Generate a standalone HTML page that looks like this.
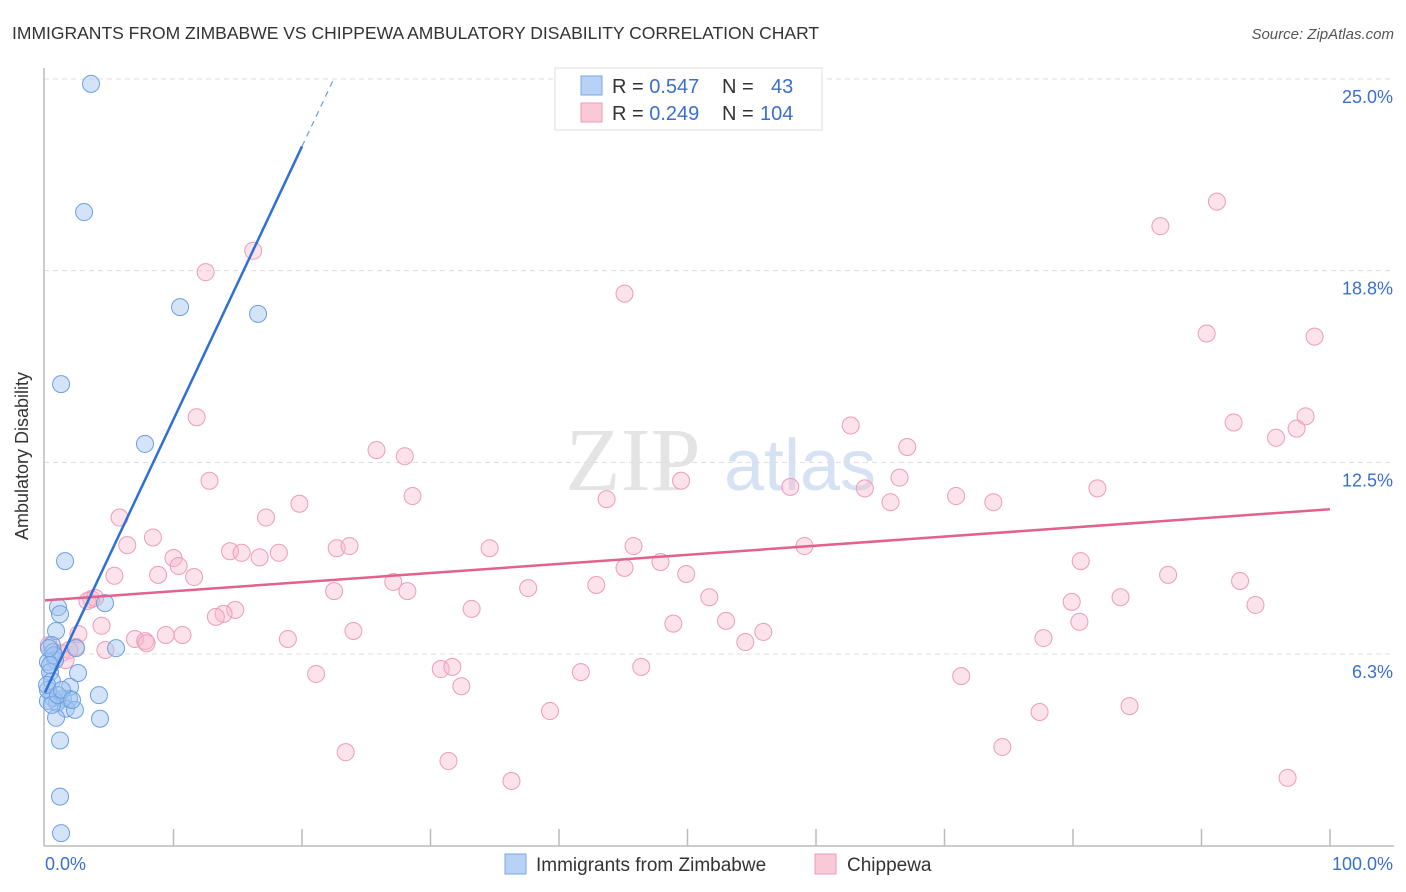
<!DOCTYPE html>
<html><head><meta charset="utf-8"><style>
body{margin:0;background:#fff;font-family:"Liberation Sans",sans-serif;}
svg{display:block}
</style></head><body>
<svg id="chart" width="1406" height="892">
<text x="12" y="39" font-size="17.5" fill="#333">IMMIGRANTS FROM ZIMBABWE VS CHIPPEWA AMBULATORY DISABILITY CORRELATION CHART</text>
<text x="1394" y="39" font-size="15" fill="#555" font-style="italic" text-anchor="end">Source: ZipAtlas.com</text>
<text x="633" y="490" font-size="90" fill="#e4e4e4" font-family="Liberation Serif" text-anchor="middle">ZIP</text>
<text x="800" y="490" font-size="72" fill="#d6e2f3" text-anchor="middle">atlas</text>
<g id="grid"></g>
<line x1="44" y1="68" x2="44" y2="846" stroke="#bbb" stroke-width="1.5"/>
<line x1="44" y1="846" x2="1394" y2="846" stroke="#bbb" stroke-width="1.5"/>
<g id="xticks"></g>
<text x="28" y="456" font-size="18" fill="#333" text-anchor="middle" transform="rotate(-90 28 456)">Ambulatory Disability</text>
<text x="45" y="870" font-size="18" fill="#3a6fd0">0.0%</text>
<text x="1393" y="870" font-size="18" fill="#3a6fd0" text-anchor="end">100.0%</text>
<g id="pts"></g>
<g id="lines"></g>
<g>
<rect x="555" y="68" width="267" height="62" fill="#fff" stroke="#ddd"/>
<rect x="581" y="76" width="21" height="19" fill="#b7d2f5" stroke="#7aa6e3"/>
<rect x="581" y="103" width="21" height="19" fill="#f9c9d8" stroke="#ee9ab5"/>
<text x="612" y="93" font-size="20" fill="#333">R = <tspan fill="#3a6fd0">0.547</tspan><tspan x="722">N =</tspan><tspan x="771" fill="#3a6fd0">43</tspan></text>
<text x="612" y="120" font-size="20" fill="#333">R = <tspan fill="#3a6fd0">0.249</tspan><tspan x="722">N =</tspan><tspan x="760" fill="#3a6fd0">104</tspan></text>
</g>
<g>
<rect x="505" y="854" width="21" height="20" fill="#b7d2f5" stroke="#7aa6e3"/>
<text x="536" y="871" font-size="19" fill="#333">Immigrants from Zimbabwe</text>
<rect x="815" y="854" width="21" height="20" fill="#f9c9d8" stroke="#ee9ab5"/>
<text x="847" y="871" font-size="19" fill="#333">Chippewa</text>
</g>
</svg>
<script>
const yTicks=[6.25,12.5,18.75,25];
const yTickLabels=["6.3%","12.5%","18.8%","25.0%"];
const xTicks=[10,20,30,40,50,60,70,80,90,100];
const blueX=[3.58,3.04,10.51,16.58,1.25,7.78,1.56,4.67,1.01,1.17,5.53,2.41,0.86,0.54,0.62,0.78,0.23,0.39,2.57,0.54,1.95,4.20,0.62,1.40,0.93,0.23,1.87,1.63,2.33,0.86,4.28,1.17,1.17,1.25,0.23,0.54,0.70,0.39,0.16,1.01,1.32,2.10,0.31];
const blueY=[24.84,20.66,17.56,17.34,15.05,13.10,9.28,7.91,7.78,7.55,6.44,6.44,7.00,6.54,6.31,6.05,5.99,5.66,5.63,5.37,5.18,4.91,4.82,4.79,4.66,4.72,4.79,4.47,4.43,4.17,4.14,3.43,1.60,0.41,5.08,4.59,6.21,5.89,5.24,4.91,5.08,4.75,6.44];
const pinkX=[12.5,16.2,45.1,86.8,91.2,90.4,98.8,11.8,62.7,92.5,98.1,97.4,95.8,67.1,25.8,28.0,12.8,49.5,81.9,28.6,19.8,43.7,58.0,63.8,66.5,70.9,73.8,65.8,5.8,17.2,8.4,6.4,14.4,15.3,18.2,16.7,22.7,23.7,34.6,45.8,59.1,10.0,10.4,80.6,47.9,45.1,5.4,8.8,11.6,27.1,49.9,87.4,93.0,28.2,22.5,37.6,42.9,83.7,51.7,79.9,94.2,3.6,3.3,33.2,14.8,13.9,13.3,4.4,48.9,53.0,80.5,24.0,55.9,2.6,9.4,10.7,7.0,7.8,7.9,18.9,54.5,77.7,2.4,4.7,1.3,1.9,21.1,30.8,31.7,32.4,41.7,46.4,71.3,39.3,77.4,84.4,23.4,31.4,36.3,74.5,96.7,3.9,0.3,1.6];
const pinkY=[18.7,19.4,18.0,20.2,21.0,16.7,16.6,13.97,13.7,13.8,14.0,13.6,13.3,13.0,12.9,12.7,11.9,11.9,11.65,11.4,11.15,11.3,11.7,11.65,12.0,11.4,11.2,11.2,10.7,10.7,10.05,9.8,9.6,9.55,9.55,9.4,9.7,9.77,9.7,9.77,9.77,9.38,9.12,9.28,9.25,9.06,8.8,8.83,8.76,8.6,8.86,8.83,8.63,8.3,8.3,8.4,8.5,8.1,8.1,7.95,7.85,8.04,7.98,7.72,7.69,7.56,7.46,7.17,7.24,7.33,7.3,7.0,6.97,6.9,6.87,6.87,6.74,6.67,6.6,6.74,6.64,6.77,6.48,6.38,6.28,6.38,5.6,5.76,5.83,5.2,5.66,5.83,5.53,4.39,4.36,4.55,3.05,2.76,2.11,3.22,2.21,8.08,6.54,6.05];
const blueTrend=[5.0,0.89];
const pinkTrend=[8.0,0.0297];
const NS="http://www.w3.org/2000/svg";
const xs=v=>45+v*12.85, ys=v=>845.7-v*30.67;
function mk(tag,attrs,parent){const e=document.createElementNS(NS,tag);for(const k in attrs)e.setAttribute(k,attrs[k]);parent.appendChild(e);return e;}
const grid=document.getElementById('grid');
yTicks.forEach((t,i)=>{
 const l=mk('line',{x1:44,x2:1394,y1:ys(t),y2:ys(t),stroke:'#ddd','stroke-dasharray':'5,4'},grid);
 
 
 const tx=mk('text',{x:1393,y:ys(t)+24,'font-size':18,fill:'#3a6fd0','text-anchor':'end'},grid);
 tx.textContent=yTickLabels[i];
 
 
});
const xt=document.getElementById('xticks');
xTicks.forEach(t=>{
 const l=mk('line',{x1:xs(t),x2:xs(t),y1:829,y2:846,stroke:'#bbb','stroke-width':1.5},xt);
 
 
});
const pts=document.getElementById('pts');
pinkX.forEach((x,i)=>{
 const c=mk('circle',{cx:xs(x),cy:ys(pinkY[i]),r:8.5,fill:'rgba(248,182,202,0.4)',stroke:'#eb9db7','stroke-width':1},pts);
 
 
});
blueX.forEach((x,i)=>{
 const c=mk('circle',{cx:xs(x),cy:ys(blueY[i]),r:8.5,fill:'rgba(160,196,240,0.45)',stroke:'#6c9fe2','stroke-width':1},pts);
 
 
});
const lines=document.getElementById('lines');
const pl=mk('line',{x1:xs(0),y1:ys(pinkTrend[0]),x2:xs(100),y2:ys(pinkTrend[0]+pinkTrend[1]*100),stroke:'#e2618d','stroke-width':2.5},lines);


const bx1=(17.5-blueTrend[0])/blueTrend[1]*0+0;
const bEnd=20, bMax=(25-blueTrend[0])/blueTrend[1];
const bl=mk('line',{x1:xs(0),y1:ys(blueTrend[0]),x2:xs(bEnd),y2:ys(blueTrend[0]+blueTrend[1]*bEnd),stroke:'#2f6fd6','stroke-width':2.5},lines);


const bd=mk('line',{x1:xs(bEnd),y1:ys(blueTrend[0]+blueTrend[1]*bEnd),x2:xs(bMax),y2:ys(25),stroke:'#6c9fe2','stroke-width':1.2,'stroke-dasharray':'6,5'},lines);


</script>
</body></html>
